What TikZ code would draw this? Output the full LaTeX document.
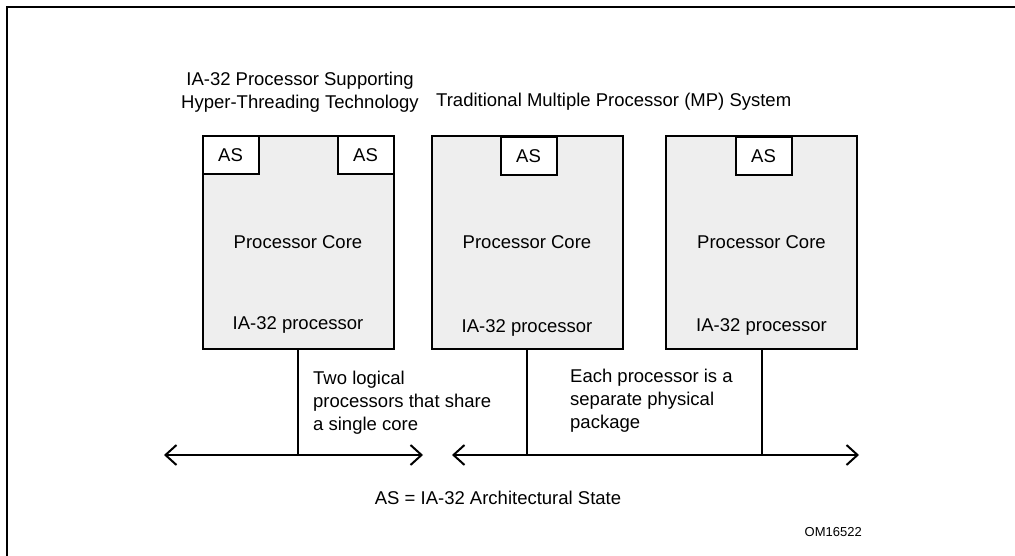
\documentclass[tikz,border=0pt]{standalone}
\usepackage{fontspec}
\setmainfont{Liberation Sans}
\usetikzlibrary{arrows.meta}
\definecolor{corefill}{RGB}{238,238,238}
\begin{document}
\begin{tikzpicture}[x=1pt,y=-1pt,
  core/.style={draw,line width=2pt,fill=corefill,minimum width=191pt,minimum height=213pt,inner sep=0pt},
  asbox/.style={draw,line width=2pt,fill=white,minimum width=56pt,minimum height=38pt,inner sep=0pt,font=\fontsize{18.5}{22}\selectfont},
  lbl/.style={font=\fontsize{18.5}{23}\selectfont,inner sep=0pt},
  bus/.style={line width=2pt,{Straight Barb[length=11pt,width=20pt,line width=2pt]}-{Straight Barb[length=11pt,width=20pt,line width=2pt]}},
  drop/.style={line width=2pt}]
\useasboundingbox (0,0) rectangle (1015,556);
\draw[line width=2.4pt] (7,560) -- (7,7) -- (1020,7);

% processor boxes
\node[core] (p1) at (298,242.5) {};
\node[core] (p2) at (527,242.5) {};
\node[core] (p3) at (761.5,242.5) {};

\node[asbox,anchor=north west] (as1) at (p1.north west) {AS};
\node[asbox,anchor=north east] (as2) at (p1.north east) {AS};
\node[asbox,anchor=north] (as3) at (528.5,136) {AS};
\node[asbox,anchor=north] (as4) at (763.5,136) {AS};

\node[lbl] (c1) at (298,242) {Processor Core};
\node[lbl] (c2) at (527,242) {Processor Core};
\node[lbl] (c3) at (761.5,242) {Processor Core};
\node[lbl] (i1) at (298,325) {IA-32 processor};
\node[lbl] (i2) at (527,328) {IA-32 processor};
\node[lbl] (i3) at (761.5,327) {IA-32 processor};

% titles
\node[lbl,align=center] (t1) at (300,92) {IA-32 Processor Supporting\\Hyper-Threading Technology};
\node[lbl,anchor=west] (t2) at (436,102) {Traditional Multiple Processor (MP) System};

% buses
\coordinate (b1l) at (164,455);
\coordinate (b1r) at (423,455);
\coordinate (b2l) at (452,455);
\coordinate (b2r) at (859,455);
\draw[bus] (b1l) -- (b1r);
\draw[bus] (b2l) -- (b2r);
\draw[drop] (p1.south) -- (p1.south |- b1l);
\draw[drop] (p2.south) -- (p2.south |- b2l);
\draw[drop] (p3.south) -- (p3.south |- b2l);

\node[lbl,anchor=north west,align=left] (n1) at (313,371) {Two logical\\processors that share\\a single core};
\node[lbl,anchor=north west,align=left] (n2) at (570,369) {Each processor is a\\separate physical\\package};

\node[lbl] (leg) at (498,498) {AS = IA-32 Architectural State};
\node[font=\fontsize{13}{15}\selectfont,inner sep=0pt,anchor=east] (om) at (862,532) {OM16522};
\end{tikzpicture}
\end{document}
